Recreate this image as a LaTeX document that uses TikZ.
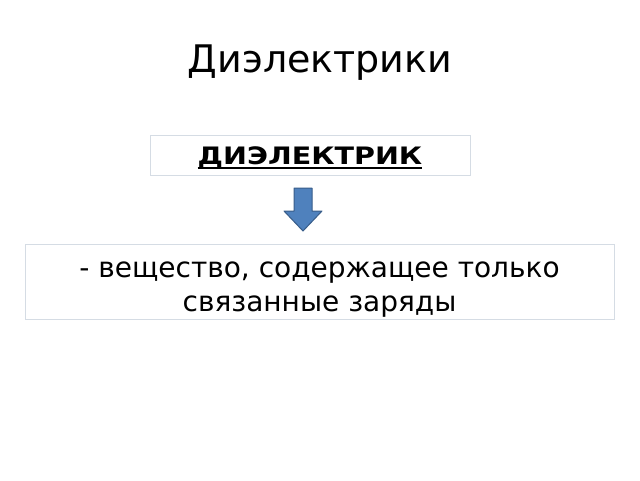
\documentclass[tikz,border=0pt]{standalone}
\usepackage{fontspec}
\setmainfont{DejaVu Sans}
\definecolor{boxline}{HTML}{D5DCE4}
\definecolor{arrfill}{HTML}{4F81BD}
\definecolor{arrline}{HTML}{385D8A}
\begin{document}
\begin{tikzpicture}[x=1pt,y=-1pt,
  framebox/.style={draw=boxline, line width=0.8pt, fill=white, inner sep=0pt, align=center}]
\useasboundingbox[fill=white] (0,0) rectangle (640,480);
\node[anchor=base, font=\fontsize{38}{45}\selectfont] (title) at (320,72) {Диэлектрики};
\node[framebox, minimum width=320pt, minimum height=40pt] (b1) at (310,155) {};
\node[anchor=base, inner sep=0pt, font=\fontsize{24}{28}\bfseries\selectfont] (t1) at (310,164) {\scalebox{1.19}[1]{ДИЭЛЕКТРИК}};
\draw[line width=2pt] (t1.base west) ++(0,4) coordinate (ul1) -- (t1.base east |- ul1);
\node[framebox, minimum width=589pt, minimum height=75pt] (b2) at (319.5,281.5) {};
\node[anchor=base, inner sep=0pt, font=\fontsize{28}{34}\selectfont] (t2a) at (319.5,277) {- вещество, содержащее только};
\node[anchor=base, inner sep=0pt, font=\fontsize{28}{34}\selectfont] (t2b) at (319.5,311) {связанные заряды};
\coordinate (tip) at (303,231);
\draw[arrline, fill=arrfill, line width=1pt, line join=round]
  (294,188) -- (312,188) -- (312,211) -- (322,211) -- (tip) -- (284,211) -- (294,211) -- cycle;
\end{tikzpicture}
\end{document}
